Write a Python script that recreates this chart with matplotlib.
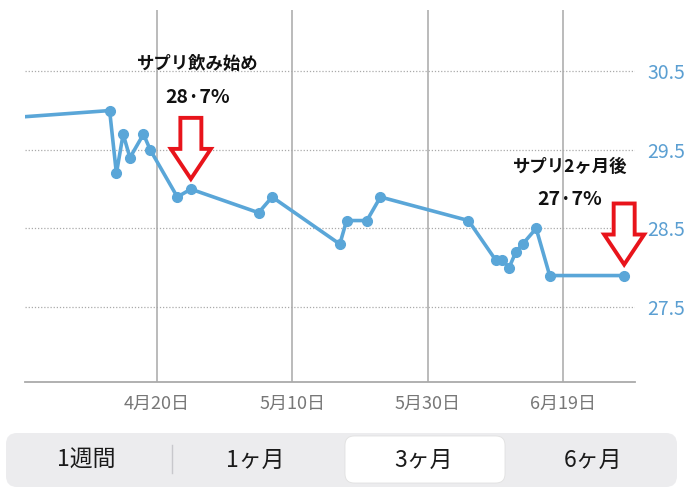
import matplotlib
matplotlib.use("Agg")
import matplotlib.pyplot as plt
import matplotlib.dates as mdates
from matplotlib.patches import FancyArrow, FancyBboxPatch
from datetime import date

plt.rcParams["font.family"] = ["Noto Sans CJK JP", "DejaVu Sans"]

# measurement dates and values (%)
dates = ["2023-03-28", "2023-04-13", "2023-04-14", "2023-04-15", "2023-04-16",
         "2023-04-18", "2023-04-19", "2023-04-23", "2023-04-25", "2023-05-05",
         "2023-05-07", "2023-05-17", "2023-05-18", "2023-05-21", "2023-05-23",
         "2023-06-05", "2023-06-09", "2023-06-10", "2023-06-11", "2023-06-12",
         "2023-06-13", "2023-06-15", "2023-06-17", "2023-06-28"]
values = [29.9, 30.0, 29.2, 29.7, 29.4,
          29.7, 29.5, 28.9, 29.0, 28.7,
          28.9, 28.3, 28.6, 28.6, 28.9,
          28.6, 28.1, 28.1, 28.0, 28.2,
          28.3, 28.5, 27.9, 27.9]

x_ticks = ["2023-04-20", "2023-05-10", "2023-05-30", "2023-06-19"]
y_ticks = [27.5, 28.5, 29.5, 30.5]

# callouts: title, value label, arrow date, arrow tip, text date, title y, label y
note_titles = ["サプリ飲み始め", "サプリ2ヶ月後"]
note_labels = ["28·7%", "27·7%"]
note_dates = ["2023-04-25", "2023-06-28"]
note_tips = [29.13, 28.04]
note_text_dates = ["2023-04-26", "2023-06-20"]
note_title_y = [30.62, 29.31]
note_label_y = [30.18, 28.89]

periods = ["1週間", "1ヶ月", "3ヶ月", "6ヶ月"]
selected = "3ヶ月"

LINE = "#5aa6d8"
TICKCOL = "#5b9fd2"


def dn(s):
    return mdates.date2num(date.fromisoformat(s))


fig = plt.figure(figsize=(7, 5), dpi=100)
ax = fig.add_axes([25 / 700, 1 - 382 / 500, 610 / 700, 372 / 500])

ax.plot([dn(d) for d in dates], values, color=LINE, lw=2.6,
        marker="o", ms=7, zorder=3)

ax.set_xlim(dn("2023-04-20") - 19.5, dn("2023-04-20") + 70.6)
ax.set_ylim(26.545, 31.28)

# vertical grid at date ticks, dotted horizontal guides
for d in x_ticks:
    ax.axvline(dn(d), color="#b5b5b5", lw=1.3, zorder=1)
for v in y_ticks:
    ax.axhline(v, color="#aaaaaa", lw=0.9, ls=(0, (1, 1.5)), zorder=1)

ax.set_xticks([dn(d) for d in x_ticks])
ax.xaxis.set_major_formatter(
    plt.FuncFormatter(lambda v, p: f"{mdates.num2date(v).month}月{mdates.num2date(v).day}日"))
ax.tick_params(axis="x", length=0, pad=9, labelsize=13, labelcolor="#777777")

ax.yaxis.tick_right()
ax.set_yticks(y_ticks)
ax.tick_params(axis="y", length=0, pad=9, labelsize=14, labelcolor=TICKCOL)

for s in ["top", "left", "right"]:
    ax.spines[s].set_visible(False)
ax.spines["bottom"].set_color("#aaaaaa")
ax.spines["bottom"].set_linewidth(1.3)

# px -> data conversions used for arrow shapes
px_day = 610 / 90.1
px_val = 78.5
for i in range(len(note_titles)):
    ax_x = dn(note_dates[i])
    tip = note_tips[i]
    top = tip + 61 / px_val
    arr = FancyArrow(ax_x, top, 0, tip - top, width=21 / px_day,
                     head_width=40 / px_day, head_length=30 / px_val,
                     length_includes_head=True, facecolor="white",
                     edgecolor="#e8141b", lw=2.8, zorder=5, clip_on=False)
    ax.add_patch(arr)
    tx = dn(note_text_dates[i])
    ax.text(tx, note_title_y[i] - 0.03, note_titles[i], ha="center", va="center",
            fontsize=12.5, fontweight="bold", color="#111111", zorder=6,
            clip_on=False)
    ax.text(tx, note_label_y[i] - 0.02, note_labels[i], ha="center", va="center",
            fontsize=14, fontweight="bold", color="#111111", zorder=6,
            clip_on=False)

# segmented period control (pixel overlay)
ov = fig.add_axes([0, 0, 1, 1], zorder=-1)
ov.set_xlim(0, 700)
ov.set_ylim(500, 0)
ov.axis("off")
ov.add_patch(FancyBboxPatch((6, 433), 671, 54,
                            boxstyle="round,pad=0,rounding_size=11",
                            facecolor="#ececee", edgecolor="none"))
ov.add_patch(FancyBboxPatch((345, 436), 160, 47,
                            boxstyle="round,pad=0,rounding_size=9",
                            facecolor="white", edgecolor="#e0e0e0", lw=0.6))
ov.plot([172, 172], [445, 473], color="#c8c8cc", lw=1)
for name, cx in zip(periods, [86, 255, 424, 593]):
    ov.text(cx, 460, name, ha="center", va="center", fontsize=16.5,
            color="#1a1a1a")

fig.savefig("out.png", dpi=100, facecolor="white")
